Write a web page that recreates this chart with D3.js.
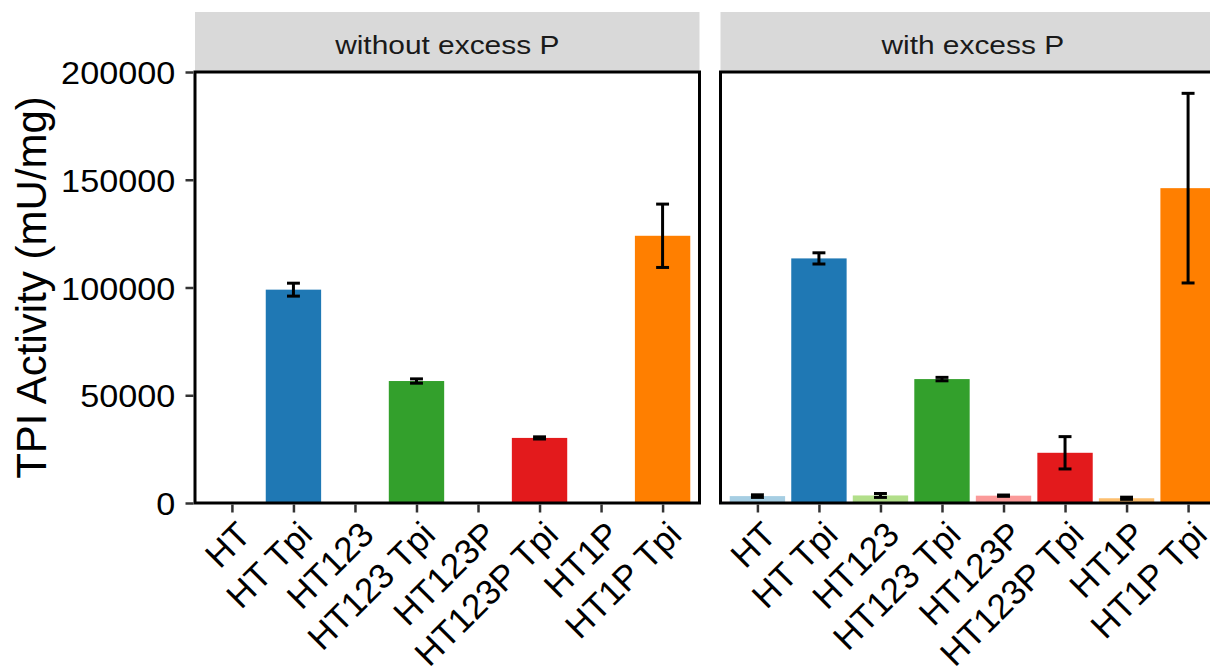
<!DOCTYPE html>
<html>
<head>
<meta charset="utf-8">
<script src="https://cdn.jsdelivr.net/npm/d3@7"></script>
<style>
  html, body { margin: 0; padding: 0; background: #fff; overflow: hidden; }
  svg { display: block; font-family: "Liberation Sans", Arial, sans-serif; }
</style>
</head>
<body>
<svg id="chart" width="1210" height="666"></svg>
<script>
// ---- data ----
const categories = ["HT", "HT Tpi", "HT123", "HT123 Tpi", "HT123P", "HT123P Tpi", "HT1P", "HT1P Tpi"];
const facets = ["without excess P", "with excess P"];
const meanWithout = [null, 99000, null, 56600, null, 30200, null, 124000];
const sdWithout   = [null, 3000, null, 1000, null, 500, null, 14700];
const meanWith = [3200, 113500, 3500, 57500, 3400, 23300, 2200, 146100];
const sdWith   = [600, 2600, 900, 800, 300, 7500, 500, 44000];
const barColors = ["#A6CEE3", "#1F78B4", "#B2DF8A", "#33A02C", "#FB9A99", "#E31A1C", "#FDBF6F", "#FF7F00"];
const yTicks = [0, 50000, 100000, 150000, 200000];
const yTitle = "TPI Activity (mU/mg)";

// ---- layout ----
const svg = d3.select("#chart");
svg.append("rect").attr("width", 1210).attr("height", 666).attr("fill", "#fff");

const panelTop = 72, panelBottom = 503;
const stripTop = 12;
const panels = [
  { name: facets[0], x0: 195, x1: 699.5, mean: meanWithout, sd: sdWithout },
  { name: facets[1], x0: 720.5, x1: 1225, mean: meanWith, sd: sdWith }
];

const y = d3.scaleLinear().domain([0, 200000]).range([panelBottom, panelTop]);

panels.forEach((p, pi) => {
  const x = d3.scalePoint().domain(categories).range([p.x0, p.x1]).padding(0.6);
  const step = x.step();
  const bw = step * 0.9;
  const g = svg.append("g");

  // strip
  const cx = (p.x0 + p.x1) / 2;
  g.append("rect").attr("x", p.x0).attr("y", stripTop)
    .attr("width", p.x1 - p.x0).attr("height", panelTop - stripTop)
    .attr("fill", "#D9D9D9");
  g.append("text").attr("x", cx).attr("y", 54)
    .attr("text-anchor", "middle").attr("font-size", 26)
    .attr("fill", "#1A1A1A")
    .attr("transform", `translate(${cx},0) scale(1.15,1) translate(${-cx},0)`)
    .text(p.name);

  const rows = categories.map((c, i) => ({ c, m: p.mean[i], s: p.sd[i], col: barColors[i] }))
    .filter(d => d.m !== null);

  // bars
  g.selectAll("rect.bar").data(rows).join("rect").attr("class", "bar")
    .attr("x", d => x(d.c) - bw / 2).attr("width", bw)
    .attr("y", d => y(d.m)).attr("height", d => y(0) - y(d.m))
    .attr("fill", d => d.col);

  // error bars
  const eb = g.selectAll("g.eb").data(rows).join("g").attr("class", "eb")
    .attr("stroke", "#000").attr("stroke-width", 3);
  const cw = step * 0.21;
  eb.append("line").attr("x1", d => x(d.c)).attr("x2", d => x(d.c))
    .attr("y1", d => y(d.m + d.s)).attr("y2", d => y(d.m - d.s));
  eb.append("line").attr("x1", d => x(d.c) - cw / 2).attr("x2", d => x(d.c) + cw / 2)
    .attr("y1", d => y(d.m + d.s)).attr("y2", d => y(d.m + d.s));
  eb.append("line").attr("x1", d => x(d.c) - cw / 2).attr("x2", d => x(d.c) + cw / 2)
    .attr("y1", d => y(d.m - d.s)).attr("y2", d => y(d.m - d.s));

  // panel border
  g.append("rect").attr("x", p.x0).attr("y", panelTop)
    .attr("width", p.x1 - p.x0).attr("height", panelBottom - panelTop)
    .attr("fill", "none").attr("stroke", "#000").attr("stroke-width", 3);

  // x axis
  const xa = g.append("g").attr("transform", `translate(0,${panelBottom + 1.5})`)
    .call(d3.axisBottom(x).tickSize(8).tickSizeOuter(0).tickFormat(""));
  xa.select(".domain").remove();
  xa.selectAll(".tick line").attr("stroke", "#333333").attr("stroke-width", 2.5);
  xa.selectAll(".tick text").remove();
  g.selectAll("text.xl").data(categories).join("text").attr("class", "xl")
    .attr("transform", d => `translate(${x(d) + 3},${panelBottom + 16}) rotate(-45)`)
    .attr("text-anchor", "end").attr("dy", "0.72em")
    .attr("font-size", 35).attr("fill", "#000")
    .text(d => d);

  // y axis only on the first panel
  if (pi === 0) {
    const ya = svg.append("g").attr("transform", `translate(${p.x0 - 1.5},0)`)
      .call(d3.axisLeft(y).tickValues(yTicks).tickSize(8).tickPadding(9).tickFormat(d => String(d)));
    ya.select(".domain").remove();
    ya.selectAll(".tick line").attr("stroke", "#333333").attr("stroke-width", 2.5);
    ya.selectAll(".tick text").attr("font-size", 32).attr("fill", "#000")
      .attr("font-family", "Liberation Sans, Arial, sans-serif").attr("dy", "0.36em")
      .attr("transform", "scale(1.07,1)");
  }
});

svg.append("text")
  .attr("transform", `translate(46,${(panelTop + panelBottom) / 2}) rotate(-90)`)
  .attr("text-anchor", "middle").attr("font-size", 42).attr("fill", "#000")
  .text(yTitle);
</script>
</body>
</html>
